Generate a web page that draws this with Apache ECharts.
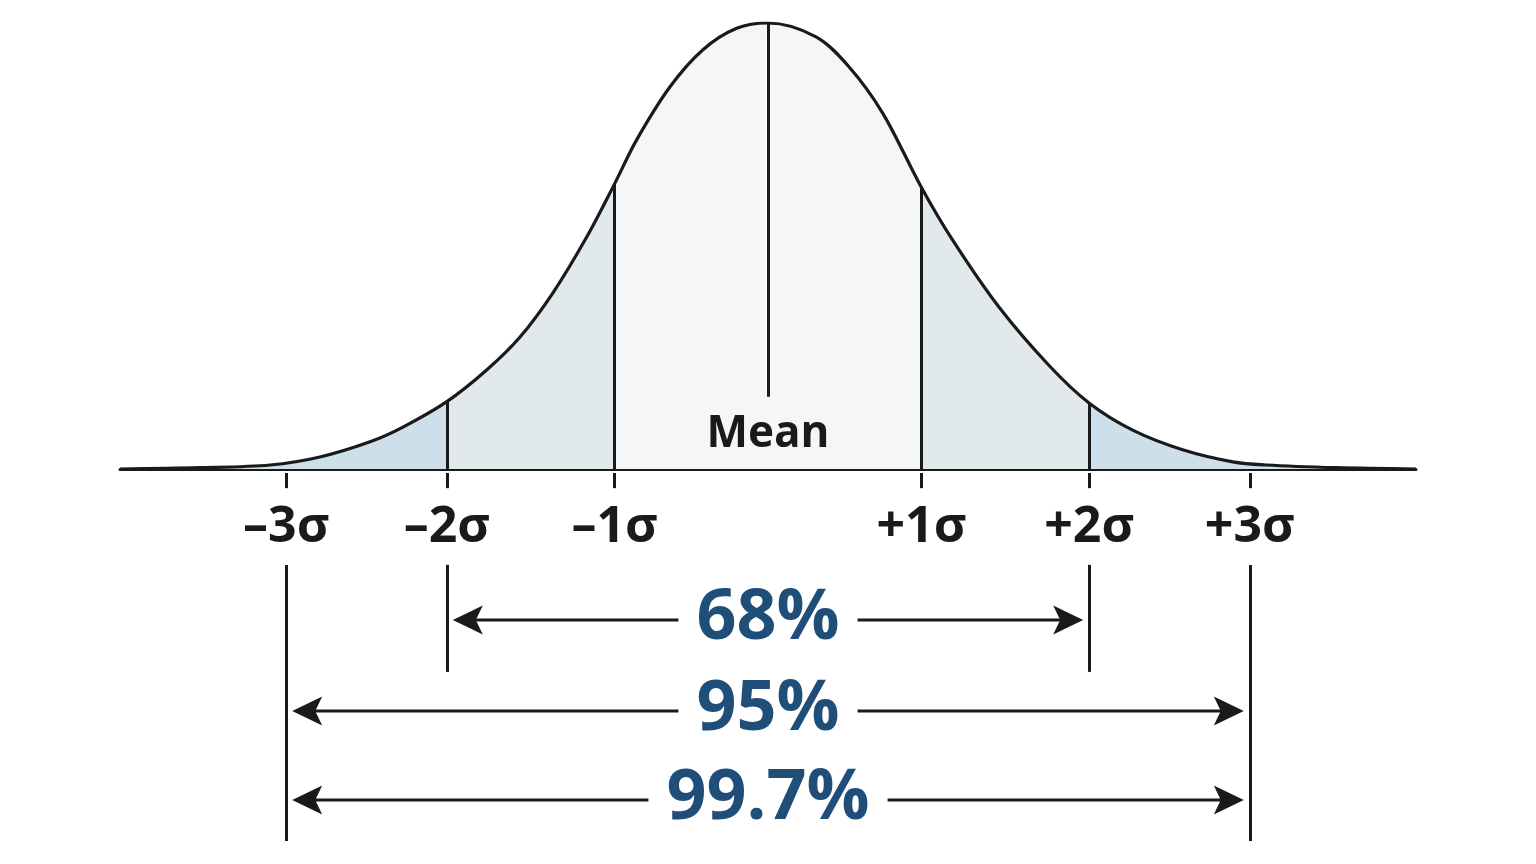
<!DOCTYPE html>
<html><head><meta charset="utf-8">
<script src="https://cdn.jsdelivr.net/npm/echarts@6/dist/echarts.min.js"></script>
<style>html,body{margin:0;padding:0;background:#fff}#c{width:1536px;height:864px}</style>
</head><body><div id="c"></div>
<script>
// ---- data (x in sigma units, y relative to peak height) ----
const curveX = [-4.035, -3.54, -3.10, -2.79, -2.478, -2.273, -2.0, -1.752, -1.544, -1.339, -1.129, -0.953, -0.818, -0.610, -0.405, -0.195, 0, 0.299, 0.504, 0.714, 0.953, 1.150, 1.438, 1.750, 1.999, 2.271, 2.582, 2.894, 3.10, 3.54, 4.035];
const curveY = [0.0, 0.003, 0.009, 0.027, 0.061, 0.094, 0.151, 0.222, 0.296, 0.395, 0.520, 0.641, 0.738, 0.857, 0.940, 0.988, 1.0, 0.969, 0.902, 0.798, 0.633, 0.513, 0.363, 0.232, 0.148, 0.087, 0.043, 0.016, 0.009, 0.003, 0.0];
const sigmaLabels = ['–3σ', '–2σ', '–1σ', '+1σ', '+2σ', '+3σ'];
const sigmaX = [-3, -2, -0.955, 0.955, 2, 3];
const sigmaCurveY = [0.013, 0.151, 0.640, 0.632, 0.148, 0.013];
const meanLabel = 'Mean';
const meanX = 0;
const pctLabels = ['68%', '95%', '99.7%'];
const pctFrom = [-2, -3, -3];
const pctTo = [2, 3, 3];

// ---- layout constants (axis units) ----
const Y_MIN = -0.8857;
const ROW_Y = [-0.3386, -0.5426, -0.7422];
const BRACKET_TOP = -0.215;
const BRACKET_BOTTOM = { 2: -0.455, 3: -0.834 };
const TICK_TOP = -0.009, TICK_BOTTOM = -0.043;
const SIGMA_LABEL_Y = -0.131;
const MEAN_LABEL_Y = 0.0785;
const MEAN_LINE_BOTTOM = 0.162;

const INK = '#1a1a1a';
const TAIL = '#cddfea', MID = '#e2e9ed', CENTER = '#f5f6f7';
const FONT = '"Open Sans", "Noto Sans", sans-serif';
const SMOOTH = 0.33;

const curve = curveX.map((x, i) => [x, curveY[i]]);

const lines = [];
sigmaX.forEach((x, i) => {
  if (Math.abs(x) < 2.5) lines.push([{ coord: [x, 0] }, { coord: [x, sigmaCurveY[i]] }]);
  lines.push([{ coord: [x, TICK_TOP] }, { coord: [x, TICK_BOTTOM] }]);
});
lines.push([{ coord: [meanX, MEAN_LINE_BOTTOM] }, { coord: [meanX, 1] }]);
const bracketXs = Array.from(new Set(pctFrom.concat(pctTo)));
bracketXs.forEach(x => {
  lines.push([{ coord: [x, BRACKET_TOP] }, { coord: [x, BRACKET_BOTTOM[Math.abs(x)]] }]);
});

const textItems = sigmaX.map((x, i) => [x, SIGMA_LABEL_Y, i]);
textItems.push([meanX, MEAN_LABEL_Y, -1]);

const chart = echarts.init(document.getElementById('c'));
chart.setOption({
  animation: false,
  backgroundColor: '#fff',
  grid: { left: 120, right: 120, top: 23, bottom: 0 },
  xAxis: {
    type: 'value', min: -4.035, max: 4.035,
    axisLine: { show: true, onZero: true, lineStyle: { color: INK, width: 3 } },
    axisTick: { show: false }, axisLabel: { show: false }, splitLine: { show: false }
  },
  yAxis: { type: 'value', min: Y_MIN, max: 1, show: false, splitLine: { show: false } },
  visualMap: {
    type: 'piecewise', show: false, dimension: 0, seriesIndex: 0,
    pieces: [
      { lt: -2, color: TAIL },
      { gte: -2, lt: -0.955, color: MID },
      { gte: -0.955, lte: 0.955, color: CENTER },
      { gt: 0.955, lte: 2, color: MID },
      { gt: 2, color: TAIL }
    ]
  },
  series: [
    {
      type: 'line', data: curve, smooth: SMOOTH, symbol: 'none', silent: true,
      lineStyle: { width: 0 }, areaStyle: { opacity: 1 }, z: 1
    },
    {
      type: 'line', data: curve, smooth: SMOOTH, symbol: 'none', silent: true,
      lineStyle: { color: INK, width: 3.2 }, z: 3,
      markLine: {
        silent: true, symbol: ['none', 'none'], label: { show: false },
        lineStyle: { color: INK, width: 3, type: 'solid' },
        emphasis: { disabled: true },
        data: lines
      }
    },
    {
      type: 'custom', silent: true, z: 4,
      data: textItems,
      encode: { x: 0, y: 1 },
      renderItem: function (params, api) {
        const p = api.coord([api.value(0), api.value(1)]);
        const idx = api.value(2);
        const isMean = idx < 0;
        return {
          type: 'text', x: p[0], y: p[1],
          style: {
            text: isMean ? meanLabel : sigmaLabels[idx], fill: INK,
            font: 'bold ' + (isMean ? 44 : 50) + 'px ' + FONT,
            align: 'center', verticalAlign: 'middle'
          }
        };
      }
    },
    {
      type: 'custom', silent: true, z: 5,
      data: pctLabels.map((l, i) => [pctFrom[i], pctTo[i], ROW_Y[i]]),
      encode: { x: [0, 1], y: 2 },
      renderItem: function (params, api) {
        const a = api.coord([api.value(0), api.value(2)]);
        const b = api.coord([api.value(1), api.value(2)]);
        const y = a[1];
        const x1 = a[0] + 6, x2 = b[0] - 6;
        return {
          type: 'group', children: [
            { type: 'line', shape: { x1: x1 + 20, y1: y, x2: x2 - 20, y2: y }, style: { stroke: INK, lineWidth: 3 } },
            { type: 'polygon', shape: { points: [[x1, y], [x1 + 30, y - 14.5], [x1 + 23, y], [x1 + 30, y + 14.5]] }, style: { fill: INK } },
            { type: 'polygon', shape: { points: [[x2, y], [x2 - 30, y - 14.5], [x2 - 23, y], [x2 - 30, y + 14.5]] }, style: { fill: INK } },
            { type: 'text', x: (a[0] + b[0]) / 2, y: y - 1, style: {
                text: pctLabels[params.dataIndex], fill: '#1f4e79',
                font: 'bold 70px ' + FONT, align: 'center', verticalAlign: 'middle',
                backgroundColor: '#fff', padding: [0, 18] } }
          ]
        };
      }
    }
  ]
});
</script>
</body></html>
